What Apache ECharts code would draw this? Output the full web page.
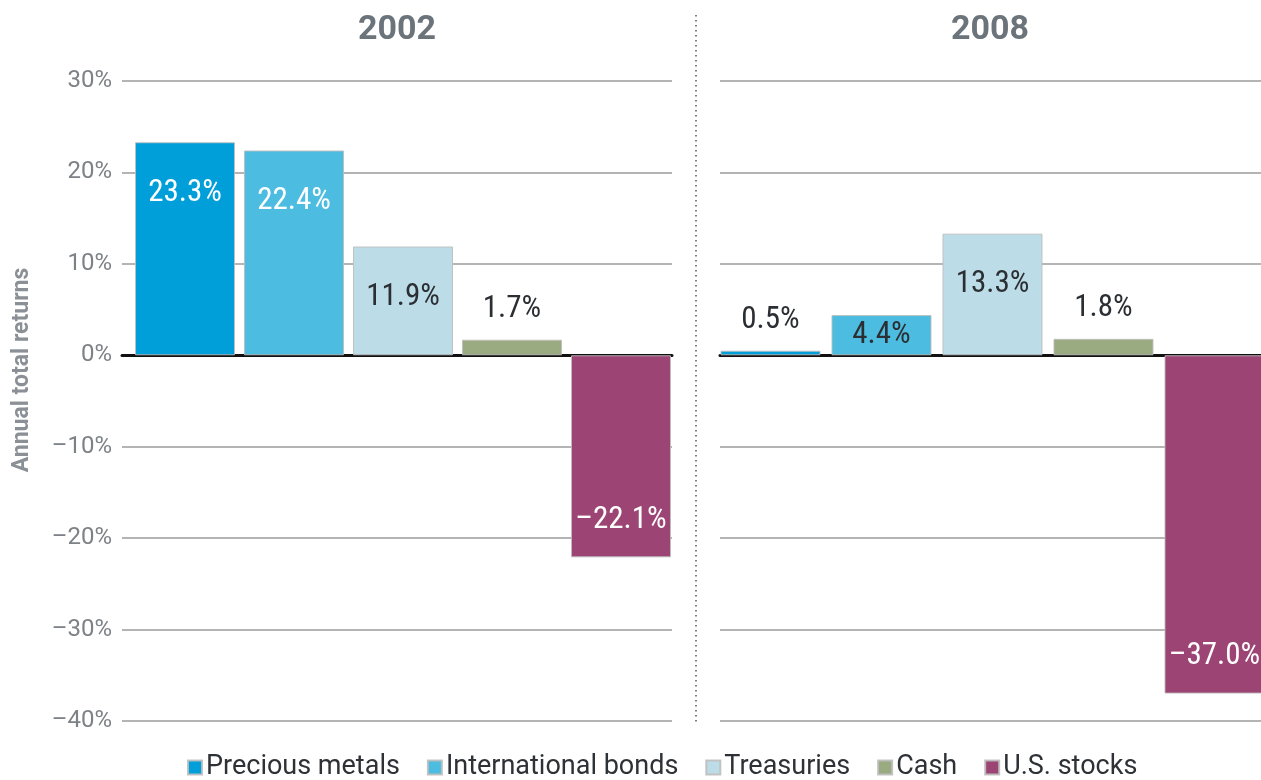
<!DOCTYPE html>
<html>
<head>
<meta charset="utf-8">
<script src="https://cdn.jsdelivr.net/npm/echarts@6/dist/echarts.min.js"></script>
<style>
html,body{margin:0;padding:0;background:#fff;}
#chart{width:1261px;height:780px;}
</style>
</head>
<body>
<div id="chart"></div>
<script>
// ---- data ----
const categories = ['Precious metals', 'International bonds', 'Treasuries', 'Cash', 'U.S. stocks'];
const years = ['2002', '2008'];
const returns2002 = [23.3, 22.4, 11.9, 1.7, -22.1];
const returns2008 = [0.5, 4.4, 13.3, 1.8, -37.0];
const yAxisTitle = 'Annual total returns';

// ---- styles ----
const colors = ['#019fda', '#4cbde1', '#bcdde7', '#9aab82', '#9c4574'];
const labelFont = '"Roboto Condensed", Roboto, sans-serif';
const baseFont = 'Roboto, "Noto Sans", sans-serif';

function fmt(v) {
  const s = Math.abs(v).toFixed(1) + '%';
  return v < 0 ? '\u2013' + s : s;
}
function yFmt(v) {
  return v < 0 ? '\u2013' + Math.abs(v) + '%' : v + '%';
}

function labelFor(v) {
  const white = (v > 15 || v < 0);
  const base = {
    show: true,
    formatter: p => fmt(p.value[1]),
    fontFamily: labelFont,
    fontSize: 31,
    color: white ? '#ffffff' : '#2b2f33'
  };
  if (v < 0) return Object.assign(base, { position: 'insideBottom', distance: 22 });
  if (v < 4) return Object.assign(base, { position: 'top', distance: 15 });
  if (v < 8) return Object.assign(base, { position: 'inside' });
  return Object.assign(base, { position: 'insideTop', distance: 35 });
}

const panels = [returns2002, returns2008];
const series = [];
panels.forEach((vals, g) => {
  categories.forEach((name, i) => {
    series.push({
      name: name,
      type: 'bar',
      xAxisIndex: g,
      yAxisIndex: g,
      barWidth: 100,
      barGap: '-100%',
      itemStyle: { color: colors[i], borderColor: 'rgba(190,190,190,0.9)', borderWidth: 1 },
      data: [{ value: [i, vals[i]], label: labelFor(vals[i]) }],
      z: 3
    });
  });
});

const gridTop = 81, gridHeight = 640;
const yAxisCommon = {
  type: 'value',
  min: -40, max: 30, interval: 10,
  axisLine: { show: false },
  axisTick: { show: false },
  splitLine: { show: true, lineStyle: { color: '#b4b4b4', width: 2 } }
};

const option = {
  animation: false,
  backgroundColor: '#ffffff',
  textStyle: { fontFamily: baseFont },
  grid: [
    { left: 122, top: gridTop, width: 550, height: gridHeight },
    { left: 720, top: gridTop, width: 541, height: gridHeight }
  ],
  xAxis: [
    { type: 'value', gridIndex: 0, min: -0.578, max: 4.468,
      axisLine: { onZero: true, lineStyle: { color: '#111', width: 3 } },
      axisTick: { show: false }, axisLabel: { show: false }, splitLine: { show: false } },
    { type: 'value', gridIndex: 1, min: -0.455, max: 4.419,
      axisLine: { onZero: true, lineStyle: { color: '#111', width: 3 } },
      axisTick: { show: false }, axisLabel: { show: false }, splitLine: { show: false } }
  ],
  yAxis: [
    Object.assign({}, yAxisCommon, { gridIndex: 0,
      axisLabel: { formatter: yFmt, color: '#7d8287', fontSize: 24, margin: 10, fontFamily: baseFont } }),
    Object.assign({}, yAxisCommon, { gridIndex: 1, axisLabel: { show: false } })
  ],
  legend: {
    data: categories,
    top: 749,
    left: 182,
    itemWidth: 14,
    itemHeight: 14,
    itemGap: 27,
    icon: 'rect',
    textStyle: { fontSize: 27, color: '#2e3236', fontFamily: baseFont, padding: [0, 0, 0, -1] }
  },
  graphic: [
    { type: 'text', x: 397, y: 30, style: { text: years[0], fontSize: 34, fontWeight: 'bold', fill: '#6b737b', fontFamily: baseFont, align: 'center', verticalAlign: 'middle' } },
    { type: 'text', x: 990, y: 30, style: { text: years[1], fontSize: 34, fontWeight: 'bold', fill: '#6b737b', fontFamily: baseFont, align: 'center', verticalAlign: 'middle' } },
    { type: 'text', x: 22, y: 370, rotation: Math.PI / 2, style: { text: yAxisTitle, fontSize: 23, fontWeight: 'bold', fill: '#8b9096', fontFamily: baseFont, align: 'center', verticalAlign: 'middle' } },
    { type: 'line', shape: { x1: 696, y1: 15, x2: 696, y2: 722 }, style: { stroke: '#555', lineWidth: 1.5, lineDash: [1.5, 3.5] } }
  ],
  series: series
};

const chart = echarts.init(document.getElementById('chart'), null, { renderer: 'canvas' });
chart.setOption(option);
</script>
</body>
</html>
